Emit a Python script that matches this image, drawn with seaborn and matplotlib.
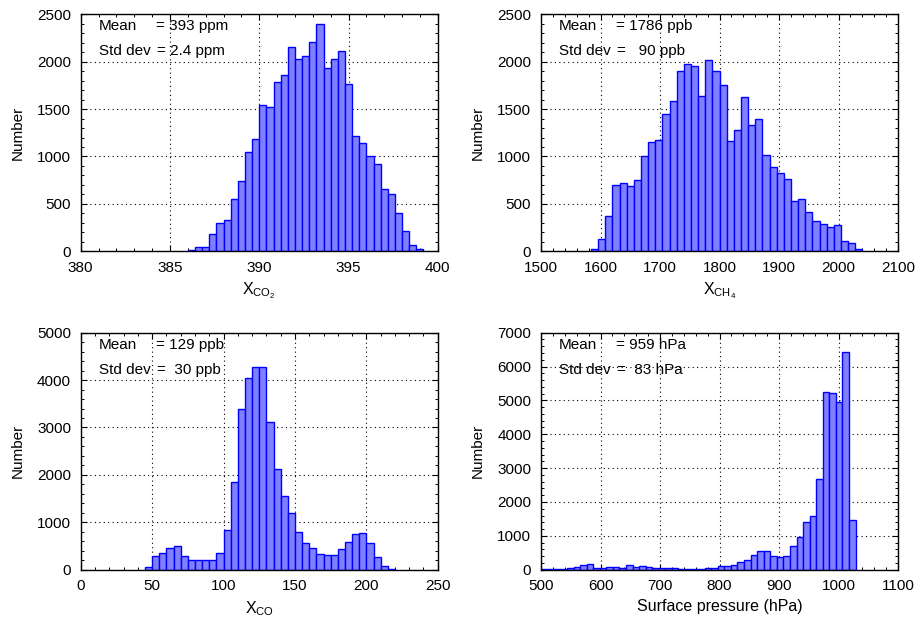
import numpy as np
import pandas as pd
import matplotlib
matplotlib.use("Agg")
import matplotlib.pyplot as plt
from matplotlib.ticker import MultipleLocator, AutoMinorLocator
import seaborn as sns

# histogram data #
co2_edges = np.linspace(386.0, 399.2, 34)
co2_counts = [10, 50, 42, 180, 300, 330, 550, 740, 1050, 1180, 1540, 1520, 1790,
              1855, 2155, 2030, 2065, 2205, 2400, 1935, 2025, 2115, 1760, 1215,
              1140, 1010, 920, 660, 605, 400, 215, 65, 25]

ch4_edges = np.linspace(1584, 2040, 39)
ch4_counts = [28, 130, 376, 696, 717, 686, 750, 1005, 1150, 1171, 1445, 1580, 1900,
              1972, 1950, 1640, 2020, 1900, 1757, 1160, 1276, 1630, 1330, 1395,
              1020, 885, 822, 760, 530, 555, 410, 315, 288, 257, 278, 105, 88, 21]

co_edges = np.linspace(45, 220, 36)
co_counts = [63, 295, 350, 465, 490, 295, 197, 197, 197, 197, 345, 830, 1860, 3380,
             4035, 4270, 4270, 3115, 2125, 1560, 1200, 800, 555, 450, 325, 300,
             300, 430, 575, 745, 775, 570, 260, 85, 20]

ps_edges = np.linspace(499.5, 1028.5, 49)
ps_counts = [10, 10, 20, 20, 40, 90, 130, 180, 60, 60, 90, 90, 40, 140, 70, 110, 70,
             60, 40, 60, 40, 30, 20, 30, 30, 60, 40, 110, 110, 140, 225, 295, 425,
             540, 540, 405, 365, 415, 700, 965, 1418, 1595, 2668, 5237, 5208, 4942,
             6429, 1477]

xlabels = [r'X$_{\mathregular{CO_2}}$', r'X$_{\mathregular{CH_4}}$',
           r'X$_{\mathregular{CO}}$', 'Surface pressure (hPa)']
mean_texts = ['= 393 ppm', '= 1786 ppb', '= 129 ppb', '= 959 hPa']
std_texts = ['= 2.4 ppm', '=   90 ppb', '=  30 ppb', '=  83 hPa']
xlims = [(380, 400), (1500, 2100), (0, 250), (500, 1100)]
xsteps = [5, 100, 50, 100]
ylims = [(0, 2500), (0, 2500), (0, 5000), (0, 7000)]
ysteps = [500, 500, 1000, 1000]

# style #
sns.set_style("ticks")
plt.rcParams['font.family'] = ['Liberation Sans', 'DejaVu Sans']
plt.rcParams['mathtext.fontset'] = 'custom'
plt.rcParams['mathtext.rm'] = 'Liberation Sans'
plt.rcParams['font.size'] = 11
for key in ['text.color', 'axes.labelcolor', 'xtick.color', 'ytick.color']:
    plt.rcParams[key] = 'black'

fig = plt.figure(figsize=(9.17, 6.18), dpi=100)
positions = [(0.088, 0.5934), (0.590, 0.5934), (0.088, 0.0782), (0.590, 0.0782)]
w, h = 0.3894, 0.3835

datasets = [(co2_edges, co2_counts), (ch4_edges, ch4_counts),
            (co_edges, co_counts), (ps_edges, ps_counts)]

for i, (edges, counts) in enumerate(datasets):
    ax = fig.add_axes([positions[i][0], positions[i][1], w, h])
    df = pd.DataFrame({'value': (edges[:-1] + edges[1:]) / 2, 'count': counts})
    sns.histplot(data=df, x='value', weights='count', bins=edges.tolist(), ax=ax,
                 color='#8080ff', edgecolor='#0000ff', linewidth=1.0, alpha=1)

    ax.set_xlim(*xlims[i])
    ax.set_ylim(*ylims[i])
    ax.xaxis.set_major_locator(MultipleLocator(xsteps[i]))
    ax.yaxis.set_major_locator(MultipleLocator(ysteps[i]))
    ax.xaxis.set_minor_locator(AutoMinorLocator(5))
    ax.yaxis.set_minor_locator(AutoMinorLocator(5))
    ax.tick_params(which='both', direction='in', top=True, right=True,
                   labelsize=11, color='black', labelcolor='black')
    ax.tick_params(which='major', length=4, width=0.8, pad=7)
    ax.tick_params(which='minor', length=2.2, width=0.7)
    ax.grid(True, which='major', color='black', linestyle=(0, (1, 3)), linewidth=0.8)
    ax.set_axisbelow(True)
    for s in ax.spines.values():
        s.set_linewidth(1.0)
        s.set_color('black')

    ax.set_xlabel(xlabels[i], fontsize=11.5, labelpad=4, color='black')
    ax.set_ylabel('Number', fontsize=11, labelpad=9, color='black')

    # mean and std dev labels #
    ax.annotate('Mean', xy=(0, 1), xycoords='axes fraction', xytext=(18, -12),
                textcoords='offset pixels', va='center', ha='left', fontsize=11)
    ax.annotate(mean_texts[i], xy=(0, 1), xycoords='axes fraction', xytext=(75, -12),
                textcoords='offset pixels', va='center', ha='left', fontsize=11)
    ax.annotate('Std dev', xy=(0, 1), xycoords='axes fraction', xytext=(18, -37),
                textcoords='offset pixels', va='center', ha='left', fontsize=11)
    ax.annotate(std_texts[i], xy=(0, 1), xycoords='axes fraction', xytext=(76, -37),
                textcoords='offset pixels', va='center', ha='left', fontsize=11)

plt.savefig('out.png', dpi=100)
